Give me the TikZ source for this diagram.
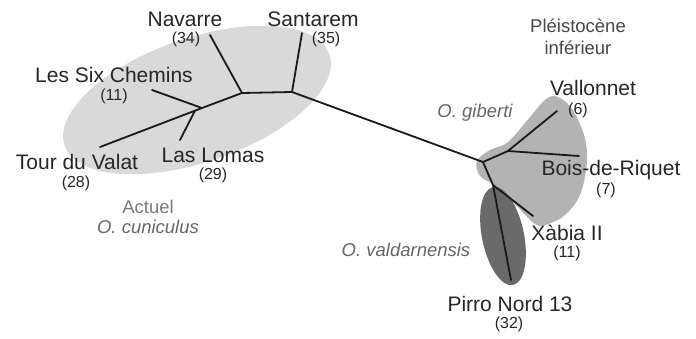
\documentclass[tikz,border=0pt]{standalone}
\usepackage{fontspec}
\setmainfont{Liberation Sans}
\definecolor{ellA}{HTML}{D9D9D9}
\definecolor{ellB}{HTML}{B3B3B3}
\definecolor{ellC}{HTML}{6A6A6A}
\definecolor{lab}{HTML}{262626}
\definecolor{grylab}{HTML}{7A7A7A}
\definecolor{grylabB}{HTML}{666666}
\tikzset{
  site/.style={font=\fontsize{21}{24}\selectfont, text=lab, inner sep=0pt},
  cnt/.style={font=\fontsize{16}{18}\selectfont, text=lab, inner sep=0pt},
  grp/.style={font=\fontsize{18.5}{21}\selectfont, text=grylab, inner sep=0pt},
  taxon/.style={font=\fontsize{18.5}{21}\selectfont\itshape, text=grylabB, inner sep=0pt},
  branch/.style={line width=1.8pt, line cap=round, line join=round, black!90}
}
\begin{document}
\begin{tikzpicture}[x=1pt,y=-1pt]
\useasboundingbox (0,0) rectangle (696,338);
% group shapes
\fill[ellA, rotate around={19:(197,100)}] (197,100) ellipse [x radius=140pt, y radius=62pt];
\fill[ellB] plot[smooth cycle, tension=0.6] coordinates {(535,224) (514,203) (496,186) (480,176) (477,161) (490,150) (508,142) (530,117) (546,99) (558,97) (572,109) (584,135) (587,162) (580,195) (565,215) (548,224)};
\fill[ellC, rotate around={11.5:(503,236)}] (503,236) ellipse [x radius=21pt, y radius=50pt];
% tree coordinates
\coordinate (S1) at (292,92);
\coordinate (N1) at (242,93);
\coordinate (L1) at (202,108);
\coordinate (T1) at (195,110.7);
\coordinate (lSan) at (302,33);
\coordinate (lNav) at (210,35);
\coordinate (lLes) at (152,90);
\coordinate (lTour) at (100,147);
\coordinate (lLas) at (180,140);
\coordinate (J) at (483,162);
\coordinate (G) at (508,151);
\coordinate (X) at (493,185);
\coordinate (lVal) at (557,111);
\coordinate (lBois) at (579,156);
\coordinate (lXab) at (533,216);
\coordinate (lPir) at (511,280);
% branches
\draw[branch] (lSan) -- (S1) -- (N1) -- (L1) -- (lTour);
\draw[branch] (lNav) -- (N1);
\draw[branch] (lLes) -- (L1);
\draw[branch] (T1) -- (lLas);
\draw[branch] (S1) -- (J) -- (G) -- (lBois);
\draw[branch] (G) -- (lVal);
\draw[branch] (J) -- (X) -- (lXab);
\draw[branch] (X) -- (lPir);
% labels
\node[site] (tNav) at (185,19) {Navarre};
\node[cnt] (cNav) at (186,39) {(34)};
\node[site] (tSan) at (313,19) {Santarem};
\node[cnt] (cSan) at (326,39) {(35)};
\node[site] (tLes) at (114,75) {Les Six Chemins};
\node[cnt] (cLes) at (114,96) {(11)};
\node[site] (tTour) at (77,162) {Tour du Valat};
\node[cnt] (cTour) at (76,183) {(28)};
\node[site] (tLas) at (213,155) {Las Lomas};
\node[cnt] (cLas) at (213,175) {(29)};
\node[grp] (gAct) at (148,207) {Actuel};
\node[taxon] (gCun) at (148,227) {O. cuniculus};
\node[grp, text=lab!85] (gPle) at (578,26) {Pléistocène};
\node[grp, text=lab!85] (gInf) at (578,48) {inférieur};
\node[site] (tVal) at (593,88) {Vallonnet};
\node[cnt] (cVal) at (578,110) {(6)};
\node[taxon] (gGib) at (475,113) {O. giberti};
\node[site] (tBois) at (611,170) {Bois-de-Riquet};
\node[cnt] (cBois) at (606,190) {(7)};
\node[site] (tXab) at (567,233) {Xàbia II};
\node[cnt] (cXab) at (567,253) {(11)};
\node[taxon] (gVal) at (406,250) {O. valdarnensis};
\node[site] (tPir) at (510,304) {Pirro Nord 13};
\node[cnt] (cPir) at (509,324) {(32)};
\end{tikzpicture}
\end{document}
